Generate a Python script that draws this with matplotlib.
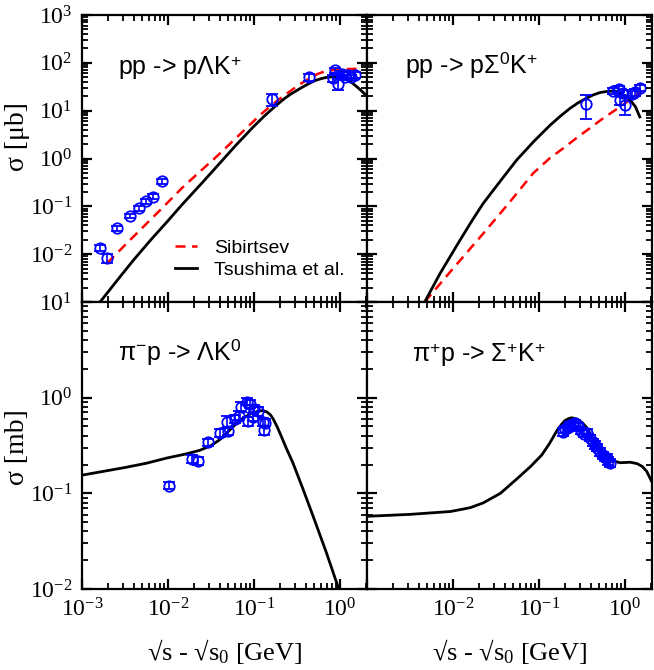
import numpy as np
import matplotlib
matplotlib.use('Agg')
import matplotlib.pyplot as plt
from matplotlib.ticker import FuncFormatter

plt.rcParams['font.family'] = ['Liberation Serif', 'DejaVu Serif']
plt.rcParams['mathtext.fontset'] = 'custom'
plt.rcParams['mathtext.rm'] = 'Liberation Serif'
plt.rcParams['mathtext.it'] = 'Liberation Serif:italic'
plt.rcParams['mathtext.sf'] = 'Liberation Sans'

# ---------------- data ----------------
# pp -> p Lambda K+  (mu b): measured points
lam_x = [0.00162, 0.00195, 0.00255, 0.0036, 0.0046, 0.0055, 0.0067, 0.0085,
         0.162, 0.44, 0.83, 0.87, 0.95, 1.05, 1.14, 1.23, 1.35, 1.5]
lam_y = [0.0134, 0.0083, 0.035, 0.063, 0.091, 0.128, 0.16, 0.34,
         17.5, 50, 48, 70, 36, 59, 50, 56, 50, 56]
lam_e = [0.002, 0.0018, 0.004, 0.007, 0.01, 0.014, 0.018, 0.04,
         5.0, 8, 8, 8, 9, 8, 7, 7, 7, 7]
# model curves, read as decade exponents (log10 x, log10 y)
lam_tsu_lx = [-2.79, -2.57, -2.4, -2.2, -2.0, -1.84, -1.6, -1.4, -1.2, -1.01,
              -0.88, -0.75, -0.65, -0.58, -0.45, -0.37, -0.29, -0.22, -0.15,
              -0.05, 0.02, 0.08, 0.14, 0.2, 0.25, 0.29]
lam_tsu_ly = [-3.0, -2.5, -2.12, -1.7, -1.3, -0.97, -0.5, -0.1, 0.3, 0.66,
              0.89, 1.1, 1.25, 1.34, 1.48, 1.56, 1.63, 1.67, 1.7,
              1.71, 1.7, 1.65, 1.58, 1.49, 1.41, 1.34]
lam_sib_lx = [-2.71, -2.5, -2.3, -2.07, -1.84, -1.64, -1.43, -1.18, -0.93,
              -0.8, -0.7, -0.58, -0.47, -0.36, -0.26, -0.18, -0.12, 0.0, 0.1, 0.23]
lam_sib_ly = [-2.19, -1.81, -1.45, -1.04, -0.62, -0.29, 0.05, 0.48, 0.91,
              1.11, 1.25, 1.41, 1.55, 1.67, 1.77, 1.82, 1.84, 1.86, 1.87, 1.88]

# pp -> p Sigma0 K+  (mu b)
sig0_x = [0.355, 0.72, 0.85, 0.94, 0.87, 0.99, 1.21, 1.3, 1.5]
sig0_y = [13.8, 26, 29, 23, 17, 13, 22, 24, 30]
sig0_e = [7.0, 4, 4, 4, 4, 5, 4, 4, 4]
sig0_tsu_lx = [-2.33, -2.15, -1.92, -1.78, -1.65, -1.45, -1.26, -1.06, -0.87,
               -0.75, -0.64, -0.55, -0.45, -0.37, -0.29, -0.22, -0.15, -0.1,
               -0.06, 0.0, 0.06, 0.12, 0.17]
sig0_tsu_ly = [-3.0, -2.4, -1.71, -1.3, -0.94, -0.47, -0.03, 0.36, 0.7,
               0.89, 1.05, 1.16, 1.26, 1.33, 1.38, 1.4, 1.41, 1.4,
               1.37, 1.31, 1.22, 1.08, 0.87]
sig0_sib_lx = [-2.33, -2.0, -1.65, -1.35, -1.07, -0.88, -0.7, -0.55, -0.39,
               -0.25, -0.1, 0.05, 0.19]
sig0_sib_ly = [-3.0, -2.3, -1.57, -0.93, -0.31, 0.0, 0.24, 0.45, 0.66,
               0.85, 1.03, 1.22, 1.4]

# pi- p -> Lambda K0  (mb)
pim_x = [0.0102, 0.019, 0.022, 0.029, 0.040, 0.050, 0.048, 0.060, 0.067, 0.070,
         0.083, 0.090, 0.086, 0.100, 0.097, 0.111, 0.127, 0.134, 0.130]
pim_y = [0.12, 0.23, 0.22, 0.34, 0.43, 0.45, 0.56, 0.60, 0.65, 0.80,
         0.91, 0.86, 0.57, 0.77, 0.63, 0.72, 0.56, 0.55, 0.46]
pim_e = [0.01, 0.02, 0.02, 0.03, 0.04, 0.04, 0.08, 0.06, 0.07, 0.10,
         0.08, 0.08, 0.06, 0.07, 0.06, 0.07, 0.05, 0.05, 0.05]
pim_tsu_lx = [-3.0, -2.75, -2.5, -2.25, -2.01, -1.8, -1.63, -1.5, -1.4, -1.32,
              -1.24, -1.17, -1.1, -1.03, -0.95, -0.9, -0.85, -0.81, -0.78,
              -0.74, -0.7, -0.63, -0.55, -0.43, -0.31, -0.16, -0.02]
pim_tsu_ly = [-0.81, -0.77, -0.73, -0.685, -0.63, -0.59, -0.55, -0.5, -0.44,
              -0.37, -0.3, -0.24, -0.2, -0.165, -0.14, -0.135, -0.15, -0.18,
              -0.22, -0.29, -0.37, -0.52, -0.68, -0.96, -1.25, -1.62, -1.99]

# pi+ p -> Sigma+ K+  (mb)
pip_x = [0.19, 0.20, 0.22, 0.23, 0.25, 0.26, 0.28, 0.31, 0.33, 0.36, 0.39,
         0.42, 0.45, 0.47, 0.51, 0.55, 0.58, 0.61, 0.64, 0.67]
pip_y = [0.44, 0.47, 0.49, 0.52, 0.53, 0.54, 0.50, 0.45, 0.42, 0.43, 0.38,
         0.34, 0.32, 0.30, 0.27, 0.25, 0.24, 0.235, 0.22, 0.21]
pip_e = [0.04, 0.04, 0.04, 0.04, 0.04, 0.04, 0.04, 0.035, 0.035, 0.035, 0.03,
         0.03, 0.03, 0.025, 0.025, 0.02, 0.02, 0.02, 0.02, 0.02]
pip_tsu_lx = [-3.0, -2.5, -2.03, -1.8, -1.65, -1.45, -1.26, -1.1, -0.97, -0.88,
              -0.79, -0.74, -0.7, -0.66, -0.62, -0.56, -0.5, -0.45, -0.41,
              -0.35, -0.3, -0.25, -0.21, -0.14, -0.06, 0.06, 0.14, 0.2, 0.25, 0.31]
pip_tsu_ly = [-1.24, -1.22, -1.19, -1.15, -1.1, -1.0, -0.85, -0.72, -0.6, -0.48,
              -0.34, -0.28, -0.24, -0.22, -0.21, -0.225, -0.26, -0.31, -0.37,
              -0.46, -0.52, -0.58, -0.62, -0.66, -0.68, -0.675, -0.69, -0.72,
              -0.77, -0.88]

x_range = (1e-3, 2.05)
top_range = (1e-3, 1e3)
bot_range = (1e-2, 1e1)

titles = ['pp -> pΛK$^{\\mathdefault{+}}$',
          'pp -> pΣ$^{\\mathdefault{0}}$K$^{\\mathdefault{+}}$',
          'π$^{\\mathdefault{-}}$p -> ΛK$^{\\mathdefault{0}}$',
          'π$^{\\mathdefault{+}}$p -> Σ$^{\\mathdefault{+}}$K$^{\\mathdefault{+}}$']
legend_labels = ['Sibirtsev', 'Tsushima et al.']

BLUE = '#0000ff'
RED = '#ff0000'

# ---------------- figure ----------------
fig = plt.figure(figsize=(6.54, 6.70), dpi=100)
W, H = 654.0, 670.0
AX_W, AX_H = 285.0, 287.0


def px_axes(l, t, r, b):
    return fig.add_axes([l / W, 1 - b / H, (r - l) / W, (b - t) / H])


ax_tl = px_axes(82, 15, 367, 302)
ax_tr = px_axes(367, 15, 652, 302)
ax_bl = px_axes(82, 302, 367, 589)
ax_br = px_axes(367, 302, 652, 589)


def fmt_factory(allowed):
    def f(v, pos):
        e = int(round(np.log10(v)))
        if abs(np.log10(v) - e) < 1e-6 and e in allowed:
            return r'$\mathdefault{10^{%d}}$' % e
        return ''
    return FuncFormatter(f)


empty_fmt = FuncFormatter(lambda v, pos: '')


def tick_positions(lo, hi):
    maj, mnr = [], []
    for e in range(-5, 5):
        d = 10.0 ** e
        if lo * 0.999 < d < hi * 1.001:
            maj.append(d)
        for m in range(2, 10):
            v = m * d
            if lo < v < hi:
                mnr.append(v)
    return maj, mnr


def draw_ticks(ax, xlim, ylim):
    # tick lengths expressed as a fraction of a decade on each axis
    xdec = np.log10(xlim[1] / xlim[0]) / AX_W   # decades per pixel in x
    ydec = np.log10(ylim[1] / ylim[0]) / AX_H   # decades per pixel in y
    for lst, plen, lw in zip(tick_positions(*xlim), (10.0, 6.0), (1.6, 1.3)):
        f = 10.0 ** (plen * ydec)
        xs, ys = [], []
        for v in lst:
            xs += [v, v, np.nan, v, v, np.nan]
            ys += [ylim[0], ylim[0] * f, np.nan, ylim[1] / f, ylim[1], np.nan]
        ax.plot(xs, ys, color='black', lw=lw, solid_capstyle='butt',
                zorder=4, clip_on=False)
    for lst, plen, lw in zip(tick_positions(*ylim), (10.0, 6.0), (1.6, 1.3)):
        f = 10.0 ** (plen * xdec)
        xs, ys = [], []
        for v in lst:
            xs += [xlim[0], xlim[0] * f, np.nan, xlim[1] / f, xlim[1], np.nan]
            ys += [v, v, np.nan, v, v, np.nan]
        ax.plot(xs, ys, color='black', lw=lw, solid_capstyle='butt',
                zorder=4, clip_on=False)


panels = ((ax_tl, top_range), (ax_tr, top_range),
          (ax_bl, bot_range), (ax_br, bot_range))
for ax, yl in panels:
    ax.set_xscale('log')
    ax.set_yscale('log')
    ax.tick_params(which='both', length=0, labelsize=17, pad=7)
    for s in ax.spines.values():
        s.set_linewidth(1.6)
        s.set_zorder(5)
    ax.xaxis.set_minor_formatter(empty_fmt)
    ax.yaxis.set_minor_formatter(empty_fmt)
    draw_ticks(ax, x_range, yl)

ax_tl.yaxis.set_major_formatter(fmt_factory({-2, -1, 0, 1, 2, 3}))
ax_bl.yaxis.set_major_formatter(fmt_factory({-2, -1, 0, 1}))
ax_bl.xaxis.set_major_formatter(fmt_factory({-3, -2, -1, 0}))
ax_br.xaxis.set_major_formatter(fmt_factory({-2, -1, 0}))
ax_tl.xaxis.set_major_formatter(empty_fmt)
ax_tr.xaxis.set_major_formatter(empty_fmt)
ax_tr.yaxis.set_major_formatter(empty_fmt)
ax_br.yaxis.set_major_formatter(empty_fmt)

ekw = dict(fmt='o', mfc='none', mec=BLUE, ecolor=BLUE, ms=7.5, mew=1.3,
           elinewidth=1.2, capsize=4.3, capthick=1.2, zorder=3)
lkw_t = dict(color='black', lw=2.0, zorder=2, solid_joinstyle='round')
lkw_s = dict(color=RED, lw=1.8, dashes=(4, 2.6), zorder=2)


def pw(a):
    return np.power(10.0, a)


# top-left
ax_tl.errorbar(lam_x, lam_y, yerr=lam_e, **ekw)
l_sib, = ax_tl.plot(pw(lam_sib_lx), pw(lam_sib_ly), label=legend_labels[0], **lkw_s)
l_tsu, = ax_tl.plot(pw(lam_tsu_lx), pw(lam_tsu_ly), label=legend_labels[1], **lkw_t)
ax_tl.legend(handles=[l_sib, l_tsu], loc='lower left',
             bbox_to_anchor=(0.325, 0.08), frameon=False,
             prop={'family': 'Liberation Sans', 'size': 14},
             handlelength=1.15, handletextpad=0.9, labelspacing=0.25,
             borderpad=0, borderaxespad=0)

# top-right
ax_tr.errorbar(sig0_x, sig0_y, yerr=sig0_e, **ekw)
ax_tr.plot(pw(sig0_sib_lx), pw(sig0_sib_ly), **lkw_s)
ax_tr.plot(pw(sig0_tsu_lx), pw(sig0_tsu_ly), **lkw_t)

# bottom-left
ax_bl.errorbar(pim_x, pim_y, yerr=pim_e, **ekw)
ax_bl.plot(pw(pim_tsu_lx), pw(pim_tsu_ly), **lkw_t)

# bottom-right
ax_br.errorbar(pip_x, pip_y, yerr=pip_e, **ekw)
ax_br.plot(pw(pip_tsu_lx), pw(pip_tsu_ly), **lkw_t)

# limits last, so the tick drawing cannot widen them
for ax, yl in panels:
    ax.set_xlim(*x_range)
    ax.set_ylim(*yl)

# reaction labels
txt_pos = [(ax_tl, 0.126, 0.791), (ax_tr, 0.133, 0.798),
           (ax_bl, 0.126, 0.798), (ax_br, 0.158, 0.791)]
for (ax, x, y), t in zip(txt_pos, titles):
    ax.text(x, y, t, transform=ax.transAxes, ha='left', va='baseline',
            fontsize=18, family='Liberation Sans')

# axis labels
fig.text(17 / W, 1 - 137 / H, 'σ [μb]', rotation=90, ha='center', va='center',
         fontsize=20)
fig.text(17 / W, 1 - 447 / H, 'σ [mb]', rotation=90, ha='center', va='center',
         fontsize=20)
xl = r'√s - √s$_{\mathdefault{0}}$ [GeV]'
fig.text(224.5 / W, 1 - 652 / H, xl, ha='center', va='center', fontsize=19)
fig.text(509.5 / W, 1 - 652 / H, xl, ha='center', va='center', fontsize=19)

fig.savefig('out.png', dpi=100)
